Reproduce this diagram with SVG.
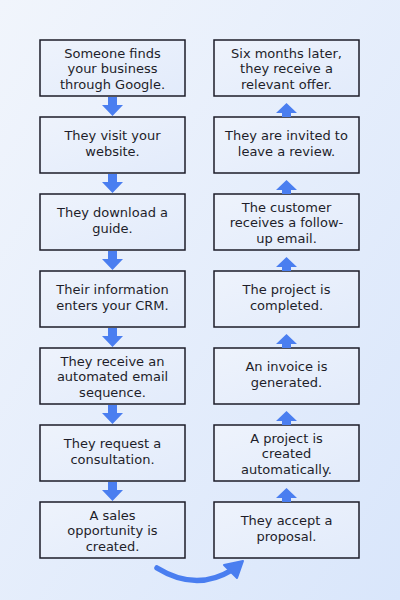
<svg xmlns="http://www.w3.org/2000/svg" width="400" height="600" viewBox="0 0 400 600">
<defs>
<linearGradient id="bg" x1="0" y1="0" x2="1" y2="1">
<stop offset="0" stop-color="#f1f5fc"/>
<stop offset="1" stop-color="#d9e6fb"/>
</linearGradient>
<linearGradient id="bx" x1="0" y1="0" x2="1" y2="1">
<stop offset="0" stop-color="#eef3fc"/>
<stop offset="1" stop-color="#e2ebfb"/>
</linearGradient>
<path id="down" d="M-4.5,0 H4.5 V8 H10.5 L0,19 L-10.5,8 H-4.5 Z"/>
<path id="up" d="M-4.5,20 H4.5 V16 H10.5 L0,6 L-10.5,16 H-4.5 Z"/>
</defs>
<style>
.box{fill:url(#bx);stroke:#1c1c28;stroke-width:1.5}
.t{font-family:"DejaVu Sans",sans-serif;font-size:13px;fill:#1e1e2a;text-anchor:middle}
.a{fill:#4a7ef0}
</style>
<rect width="400" height="600" fill="url(#bg)"/>
<g id="n1"><rect class="box" x="40" y="40" width="145" height="56"/><text class="t" x="112.5" y="57.5">Someone finds</text><text class="t" x="112.5" y="73">your business</text><text class="t" x="112.5" y="88.5">through Google.</text></g>
<g id="n2"><rect class="box" x="40" y="117" width="145" height="56"/><text class="t" x="112.5" y="140">They visit your</text><text class="t" x="112.5" y="155.5">website.</text></g>
<g id="n3"><rect class="box" x="40" y="194" width="145" height="56"/><text class="t" x="112.5" y="217">They download a</text><text class="t" x="112.5" y="232.5">guide.</text></g>
<g id="n4"><rect class="box" x="40" y="271" width="145" height="56"/><text class="t" x="112.5" y="294">Their information</text><text class="t" x="112.5" y="309.5">enters your CRM.</text></g>
<g id="n5"><rect class="box" x="40" y="348" width="145" height="56"/><text class="t" x="112.5" y="365.5">They receive an</text><text class="t" x="112.5" y="381">automated email</text><text class="t" x="112.5" y="396.5">sequence.</text></g>
<g id="n6"><rect class="box" x="40" y="425" width="145" height="56"/><text class="t" x="112.5" y="448">They request a</text><text class="t" x="112.5" y="463.5">consultation.</text></g>
<g id="n7"><rect class="box" x="40" y="502" width="145" height="56"/><text class="t" x="112.5" y="519.5">A sales</text><text class="t" x="112.5" y="535">opportunity is</text><text class="t" x="112.5" y="550.5">created.</text></g>
<g id="n8"><rect class="box" x="214" y="502" width="145" height="56"/><text class="t" x="286.5" y="525">They accept a</text><text class="t" x="286.5" y="540.5">proposal.</text></g>
<g id="n9"><rect class="box" x="214" y="425" width="145" height="56"/><text class="t" x="286.5" y="442.5">A project is</text><text class="t" x="286.5" y="458">created</text><text class="t" x="286.5" y="473.5">automatically.</text></g>
<g id="n10"><rect class="box" x="214" y="348" width="145" height="56"/><text class="t" x="286.5" y="371">An invoice is</text><text class="t" x="286.5" y="386.5">generated.</text></g>
<g id="n11"><rect class="box" x="214" y="271" width="145" height="56"/><text class="t" x="286.5" y="294">The project is</text><text class="t" x="286.5" y="309.5">completed.</text></g>
<g id="n12"><rect class="box" x="214" y="194" width="145" height="56"/><text class="t" x="286.5" y="211.5">The customer</text><text class="t" x="286.5" y="227">receives a follow-</text><text class="t" x="286.5" y="242.5">up email.</text></g>
<g id="n13"><rect class="box" x="214" y="117" width="145" height="56"/><text class="t" x="286.5" y="140">They are invited to</text><text class="t" x="286.5" y="155.5">leave a review.</text></g>
<g id="n14"><rect class="box" x="214" y="40" width="145" height="56"/><text class="t" x="286.5" y="57.5">Six months later,</text><text class="t" x="286.5" y="73">they receive a</text><text class="t" x="286.5" y="88.5">relevant offer.</text></g>
<g id="connectors" class="a">
<use href="#down" x="112.5" y="97"/>
<use href="#down" x="112.5" y="174"/>
<use href="#down" x="112.5" y="251"/>
<use href="#down" x="112.5" y="328"/>
<use href="#down" x="112.5" y="405"/>
<use href="#down" x="112.5" y="482"/>
<use href="#up" x="286.5" y="482"/>
<use href="#up" x="286.5" y="405"/>
<use href="#up" x="286.5" y="328"/>
<use href="#up" x="286.5" y="251"/>
<use href="#up" x="286.5" y="174"/>
<use href="#up" x="286.5" y="97"/>
<path d="M157,568 Q196,592 232,570" fill="none" stroke="#4a7ef0" stroke-width="5.5" stroke-linecap="round"/>
<path d="M243,561 L237,578 L224,565 Z" fill="#4a7ef0" stroke="#4a7ef0" stroke-width="2" stroke-linejoin="round"/>
</g>
</svg>
